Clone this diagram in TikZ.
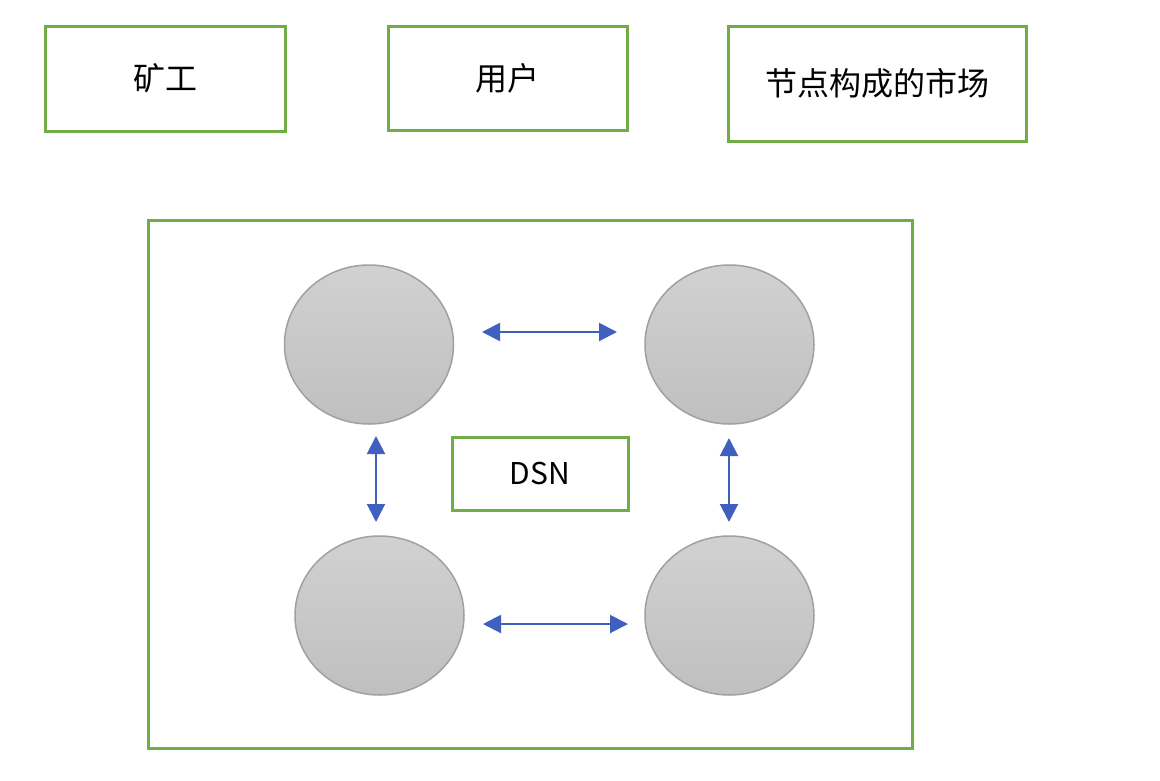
\documentclass[tikz,border=0pt]{standalone}
\usepackage{fontspec}
\newfontfamily\cjk{Noto Sans CJK SC}
\usetikzlibrary{arrows.meta,shapes.geometric}
\definecolor{boxgreen}{HTML}{70AD47}
\definecolor{arrowblue}{HTML}{4060C0}
\definecolor{circedge}{HTML}{A0A0A0}
\tikzset{
  gbox/.style={draw=boxgreen, line width=3pt, fill=white, inner sep=0pt, font=\cjk\fontsize{32}{38}\selectfont},
  node circ/.style={ellipse, draw=circedge, line width=1.5pt, minimum width=169pt, minimum height=159pt, inner sep=0pt, top color=black!18, bottom color=black!25},
  biarrow/.style={draw=arrowblue, line width=2pt, {Triangle[length=18pt,width=18pt]}-{Triangle[length=18pt,width=18pt]}},
}
\begin{document}
\begin{tikzpicture}[x=1pt,y=-1pt]
\useasboundingbox (0,0) rectangle (1160,780);
\node[gbox, minimum width=240pt, minimum height=105pt] (miner) at (165,78.5) {矿工};
\node[gbox, minimum width=239pt, minimum height=104pt] (user) at (507.5,78) {用户};
\node[gbox, minimum width=298pt, minimum height=115pt] (market) at (877,83.5) {节点构成的市场};
\node[draw=boxgreen, line width=3pt, minimum width=764pt, minimum height=528pt, inner sep=0pt] (dsnarea) at (530,484) {};
\node[node circ] (c1) at (369,344.5) {};
\node[node circ] (c2) at (729.5,344.5) {};
\node[node circ] (c3) at (379.5,615.5) {};
\node[node circ] (c4) at (729.5,615.5) {};
\node[gbox, minimum width=176pt, minimum height=73pt, font=\cjk\fontsize{30}{36}\selectfont] (dsn) at (540,473.5) {DSN};
\coordinate (a1s) at (482,332);
\coordinate (a1e) at (617,332);
\coordinate (a2s) at (483,624);
\coordinate (a2e) at (628,624);
\coordinate (a3s) at (376,436);
\coordinate (a3e) at (376,522);
\coordinate (a4s) at (729,438);
\coordinate (a4e) at (729,522);
\draw[biarrow] (a1s) -- (a1e);
\draw[biarrow] (a2s) -- (a2e);
\draw[biarrow] (a3s) -- (a3e);
\draw[biarrow] (a4s) -- (a4e);
\end{tikzpicture}
\end{document}
